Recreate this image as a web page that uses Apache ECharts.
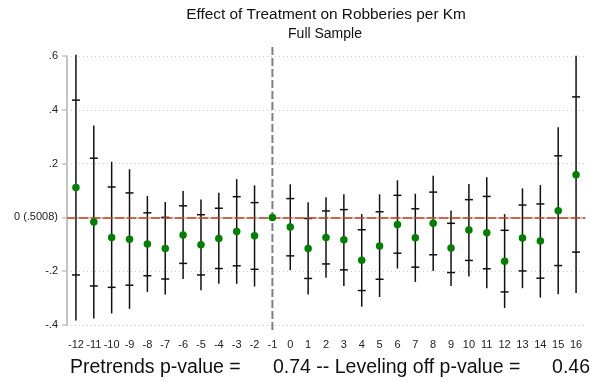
<!DOCTYPE html>
<html>
<head>
<meta charset="utf-8">
<script src="https://cdn.jsdelivr.net/npm/echarts@6/dist/echarts.min.js"></script>
<style>
  html, body { margin: 0; padding: 0; background: #fff; }
  #chart { width: 603px; height: 382px; }
</style>
</head>
<body>
<div id="chart"></div>
<script>
// event time relative to treatment
const periods = ["-12","-11","-10","-9","-8","-7","-6","-5","-4","-3","-2","-1",
                 "0","1","2","3","4","5","6","7","8","9","10","11","12","13","14","15","16"];
// point estimates (-1 is the omitted period)
const estimates = [0.111,-0.017,-0.075,-0.081,-0.099,-0.116,-0.065,-0.102,-0.078,-0.052,-0.068,0,
                   -0.036,-0.116,-0.075,-0.083,-0.159,-0.106,-0.026,-0.076,-0.022,-0.114,-0.047,-0.057,-0.163,-0.077,-0.088,0.025,0.159];
// inner interval (capped)
const capLow  = [-0.214,-0.255,-0.260,-0.252,-0.217,-0.229,-0.171,-0.214,-0.190,-0.180,-0.193,null,
                 -0.143,-0.227,-0.173,-0.195,-0.272,-0.230,-0.133,-0.185,-0.139,-0.205,-0.160,-0.191,-0.277,-0.199,-0.226,-0.179,-0.129];
const capHigh = [0.436,0.220,0.113,0.091,0.017,0.000,0.043,0.010,0.034,0.077,0.055,null,
                 0.070,-0.004,0.024,0.029,-0.046,0.021,0.082,0.032,0.094,-0.022,0.066,0.078,-0.048,0.046,0.050,0.229,0.448];
// outer interval (plain line)
const lineLow  = [-0.383,-0.376,-0.357,-0.340,-0.277,-0.287,-0.229,-0.271,-0.247,-0.247,-0.257,null,
                  -0.196,-0.287,-0.224,-0.255,-0.332,-0.296,-0.190,-0.240,-0.199,-0.255,-0.220,-0.263,-0.337,-0.263,-0.298,-0.286,-0.281];
const lineHigh = [0.605,0.342,0.207,0.179,0.080,0.057,0.098,0.067,0.092,0.142,0.119,null,
                  0.123,0.056,0.075,0.086,0.012,0.086,0.138,0.088,0.155,0.026,0.124,0.149,0.012,0.108,0.120,0.335,0.601];

const yTicks = { "0.6": ".6", "0.4": ".4", "0.2": ".2", "0": "0 (.5008)", "-0.2": "-.2", "-0.4": "-.4" };
const treatPeriod = "-1";

const TITLE = "Effect of Treatment on Robberies per Km";
const SUBTITLE = "Full Sample";
const NOTE_1 = "Pretrends p-value =";
const NOTE_2 = "0.74 -- Leveling off p-value =";
const NOTE_3 = "0.46";

const FONT = "'Liberation Sans', Arial, sans-serif";

const ciData = periods.map((p, i) => [i, lineLow[i], lineHigh[i], capLow[i], capHigh[i]])
    .filter(d => d[1] !== null);

const chart = echarts.init(document.getElementById("chart"));
chart.setOption({
    animation: false,
    textStyle: { fontFamily: FONT },
    grid: { left: 67, right: 18, top: 56, bottom: 57 },
    xAxis: {
        type: "category",
        data: periods,
        boundaryGap: true,
        offset: 8,
        axisLine: { lineStyle: { color: "#c4c4c4", width: 2 } },
        axisTick: { alignWithLabel: true, length: 5, lineStyle: { color: "#c4c4c4", width: 1.5 } },
        axisLabel: { interval: 0, fontSize: 11, color: "#222", margin: 6, fontFamily: FONT },
        splitLine: { show: false },
    },
    yAxis: {
        type: "value",
        min: -0.4, max: 0.6, interval: 0.2,
        axisLine: { show: true, lineStyle: { color: "#c4c4c4", width: 2 } },
        axisTick: { show: true, length: 5, lineStyle: { color: "#c4c4c4", width: 1.5 } },
        axisLabel: {
            fontSize: 11, color: "#222", margin: 9, fontFamily: FONT,
            formatter: v => yTicks[String(Math.round(v * 10) / 10)] || "",
        },
        splitLine: { lineStyle: { color: "#cfcfcf", type: [1, 3], width: 1 } },
    },
    graphic: [
        { type: "text", style: { x: 326, y: 15, text: TITLE, textAlign: "center", textVerticalAlign: "middle",
            font: "15.4px " + FONT, fill: "#111" } },
        { type: "text", style: { x: 325, y: 34, text: SUBTITLE, textAlign: "center", textVerticalAlign: "middle",
            font: "14px " + FONT, fill: "#111" } },
        { type: "text", style: { x: 70, y: 368, text: NOTE_1, textVerticalAlign: "middle",
            font: "19.5px " + FONT, fill: "#111" } },
        { type: "text", style: { x: 273, y: 368, text: NOTE_2, textVerticalAlign: "middle",
            font: "19.5px " + FONT, fill: "#111" } },
        { type: "text", style: { x: 590, y: 368, text: NOTE_3, textAlign: "right", textVerticalAlign: "middle",
            font: "19.5px " + FONT, fill: "#111" } },
    ],
    series: [
        {
            // vertical reference line at the treatment period
            type: "custom",
            data: [[periods.indexOf(treatPeriod)]],
            clip: false,
            z: 1,
            renderItem: (params, api) => {
                const cs = params.coordSys;
                const x = api.coord([api.value(0), 0])[0];
                return {
                    type: "line",
                    shape: { x1: x, y1: cs.y - 9, x2: x, y2: cs.y + cs.height + 8 },
                    style: { stroke: "#7f7f7f", lineWidth: 2, lineDash: [8, 3] },
                };
            },
        },
        {
            // confidence intervals
            type: "custom",
            data: ciData,
            clip: false,
            z: 2,
            renderItem: (params, api) => {
                const idx = api.value(0);
                const [x, yLo] = api.coord([idx, api.value(1)]);
                const yHi = api.coord([idx, api.value(2)])[1];
                const cLo = api.coord([idx, api.value(3)])[1];
                const cHi = api.coord([idx, api.value(4)])[1];
                const st = { stroke: "#111", lineWidth: 1.5 };
                return {
                    type: "group",
                    children: [
                        { type: "line", shape: { x1: x, y1: yLo, x2: x, y2: yHi }, style: st },
                        { type: "line", shape: { x1: x - 4, y1: cLo, x2: x + 4, y2: cLo }, style: st },
                        { type: "line", shape: { x1: x - 4, y1: cHi, x2: x + 4, y2: cHi }, style: st },
                    ],
                };
            },
        },
        {
            type: "scatter",
            data: estimates,
            symbolSize: 7.5,
            itemStyle: { color: "#008000", opacity: 1 },
            z: 4,
            markLine: {
                silent: true,
                symbol: "none",
                label: { show: false },
                lineStyle: { color: "#d2461c", type: [9, 3], width: 1.5 },
                data: [{ yAxis: 0 }],
                z: 3,
            },
        },
    ],
});
</script>
</body>
</html>
